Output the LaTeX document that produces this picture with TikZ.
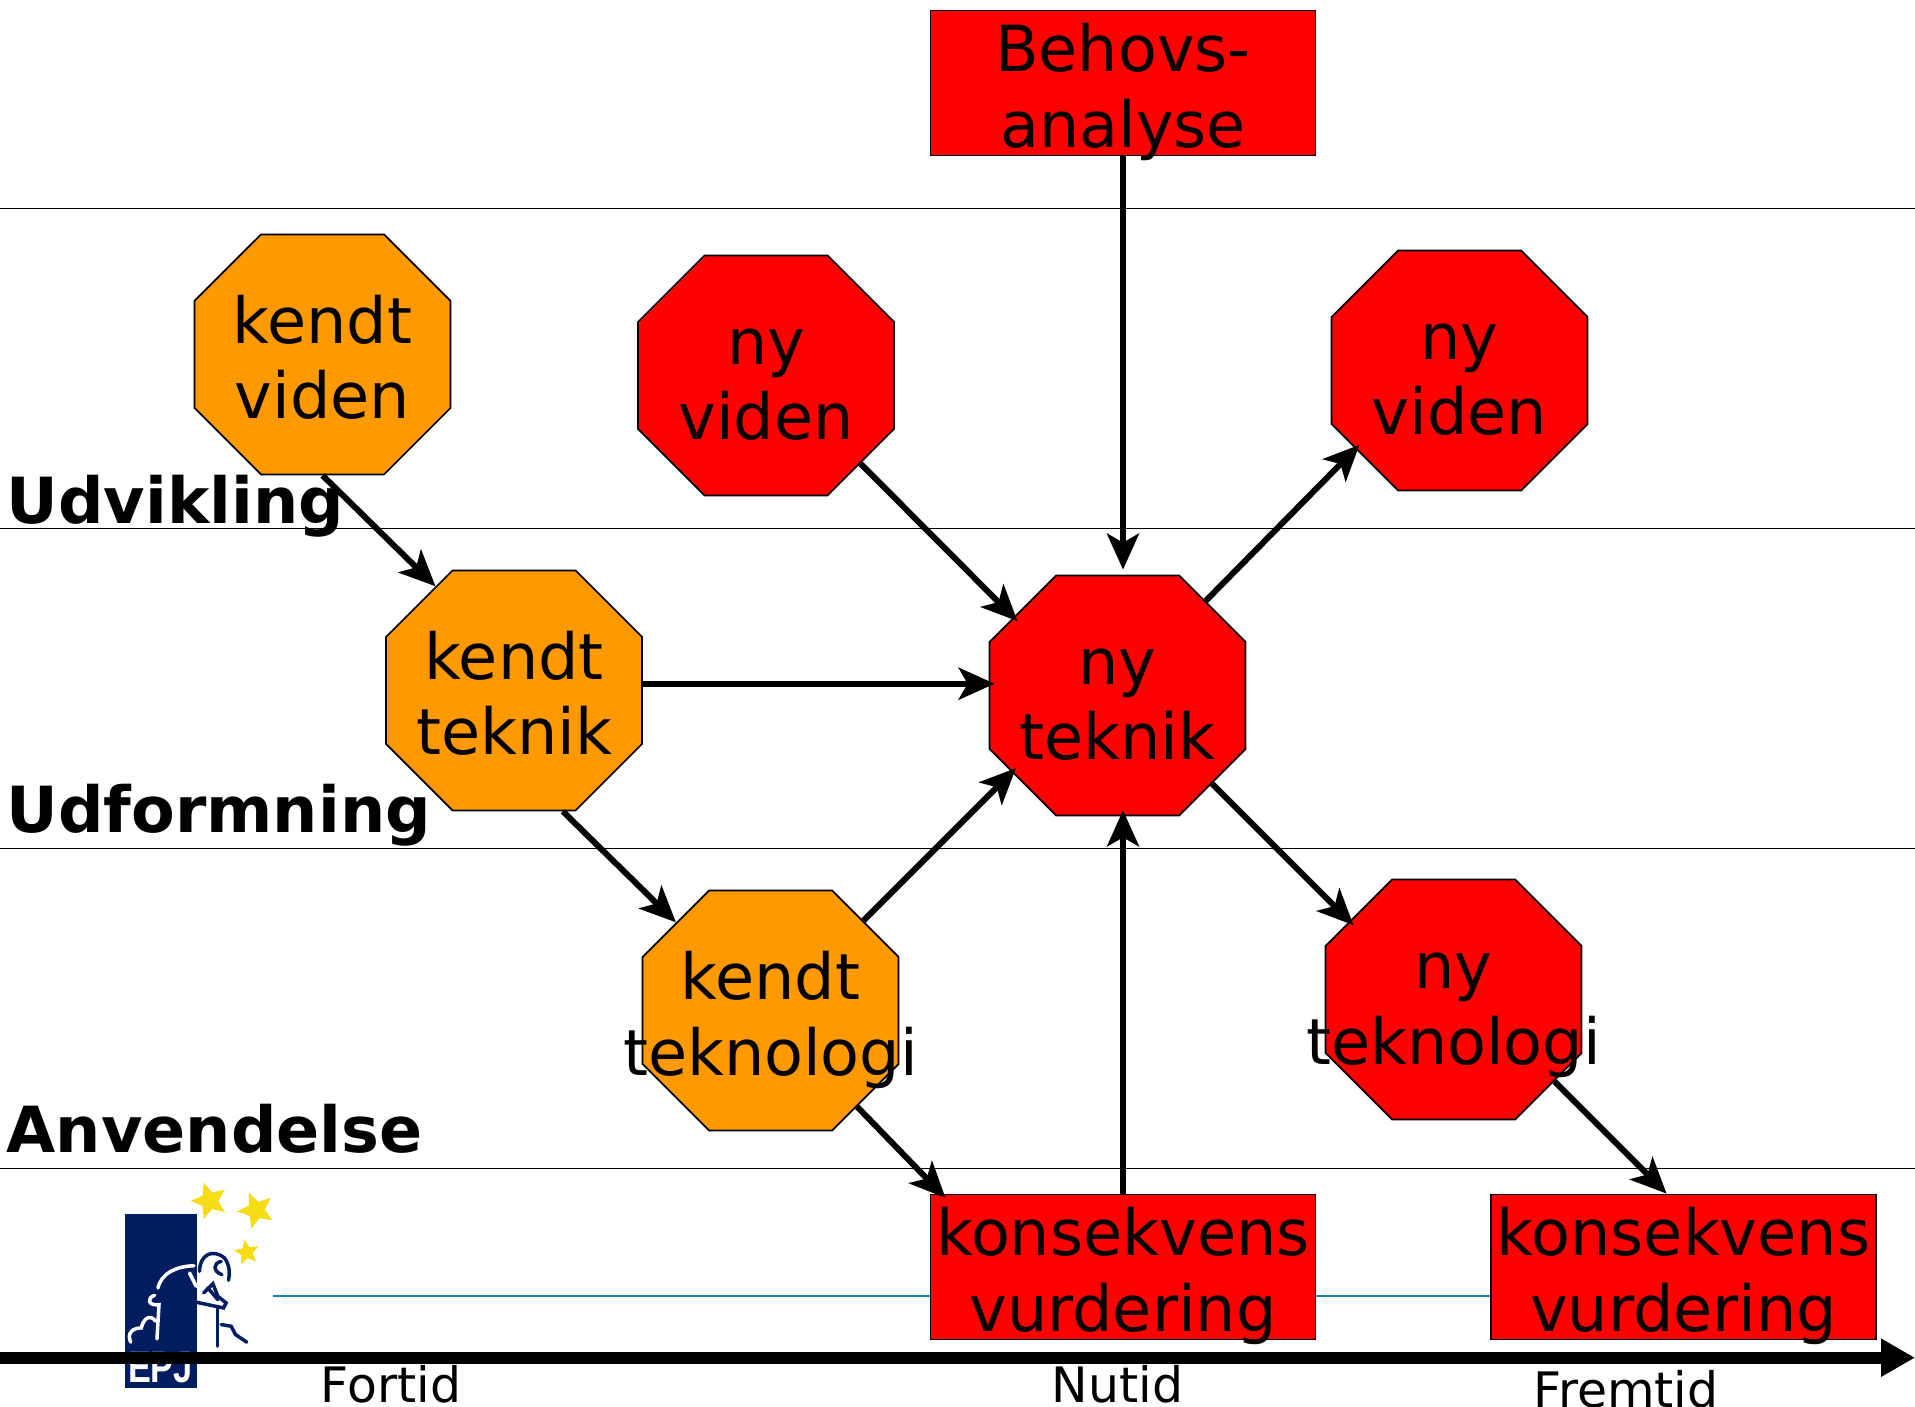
\documentclass[tikz,border=0pt]{standalone}
\usepackage{fontspec}
\setmainfont{DejaVu Sans}
\newfontfamily\epjfont{Liberation Sans}
\usetikzlibrary{arrows.meta,positioning,shapes.misc,shapes.geometric,backgrounds}
\definecolor{known}{HTML}{FF9900}
\definecolor{epjblue}{HTML}{001E5F}
\definecolor{epjstar}{HTML}{F5DC14}
\definecolor{timeline}{HTML}{1A80C0}
\newcommand{\twolines}[2]{\makebox[0pt]{#1}\\\makebox[0pt]{#2}}

\begin{document}
\begin{tikzpicture}[on grid,>={Stealth[length=.36cm,width=.32cm,inset=.09cm]}]
	\tikzstyle{block text}=[font=\fontsize{18.1pt}{21.6pt}\selectfont, align=center, inner sep=0pt, text height=1.31cm, text depth=.02cm, draw=black, line width=.5pt]
	\tikzstyle{octa}=[block text, chamfered rectangle, chamfered rectangle xsep=.82cm, chamfered rectangle ysep=.82cm, minimum width=2.56cm, minimum height=2.40cm]
	\tikzstyle{octa known}=[octa, fill=known]
	\tikzstyle{octa new}=[octa, fill=red]
	\tikzstyle{box}=[block text, rectangle, fill=red, minimum width=3.85cm, minimum height=1.45cm]
	\tikzstyle{flow}=[->, line width=.06cm]
	\tikzstyle{reach}=[flow, shorten >=-.06cm]
	\tikzstyle{phase}=[font=\fontsize{18.1pt}{21.6pt}\selectfont\bfseries, anchor=base west, inner sep=0pt]
	\tikzstyle{era}=[font=\fontsize{13.9pt}{16pt}\selectfont, anchor=base, inner sep=0pt]
	\tikzstyle{star dot}=[star, star points=5, star point ratio=2.2, fill=epjstar, inner sep=0pt]
	\tikzstyle{epj line}=[line width=.035cm, line cap=round]

	\clip (0,0) rectangle (19.15,14.06);

	% phase borders
	\foreach \y in {11.977,8.777,5.577,2.377}
		\draw [line width=.015cm] (0,\y) -- (19.15,\y);

	\node [phase] (udvikling) at (.06,8.82) {Udvikling};
	\node [phase] (udformning) at (.06,5.73) {Udformning};
	\node [phase] (anvendelse) at (.06,2.535) {Anvendelse};

	% logo, in crop pixels
	\begin{scope}[shift={(0,2.76)},x=.003333cm,y=-.003333cm]
		\fill [epjblue] (375,252) rectangle (591,777);
		\node [star dot, minimum size=.38cm, rotate=18] (star a) at (630,213) {};
		\node [star dot, minimum size=.38cm, rotate=22] (star b) at (770,241) {};
		\node [star dot, minimum size=.26cm, rotate=10] (star c) at (742,368) {};
		\draw [epj line, epjblue] (600,425) .. controls (600,375) and (640,355) .. (675,385) .. controls (690,405) and (692,430) .. (687,452);
		\draw [epj line, epjblue] (665,395) .. controls (640,400) and (640,425) .. (667,435);
		\draw [epj line, epjblue] (612,490) -- (640,462) -- (655,500) -- (680,520) -- (672,535) -- (591,518);
		\draw [epj line, epjblue] (625,475) -- (655,510);
		\draw [epj line, epjblue] (654,535) -- (654,650);
		\draw [epj line, epjblue] (665,585) -- (695,590) -- (708,615) -- (742,638);
		\draw [epj line, white] (475,475) .. controls (485,430) and (530,410) .. (583,408);
		\draw [epj line, white] (570,430) -- (590,470);
		\draw [epj line, white] (465,497) .. controls (440,505) and (445,530) .. (478,525) -- (472,628);
		\draw [epj line, white] (393,638) .. controls (380,610) and (400,595) .. (425,595) .. controls (430,570) and (450,550) .. (468,575);
	\end{scope}
	\node [font=\epjfont\fontsize{12.5pt}{14pt}\selectfont\bfseries, text=white, anchor=base, inner sep=0pt] (epj) at (1.605,.24) {\scalebox{.78}[1]{EPJ}};

	% time axis
	\coordinate (past) at (0,.483);
	\coordinate (future) at (19.15,.483);
	\draw [-{Triangle[length=.34cm,width=.36cm]}, line width=.12cm] (past) -- (future);
	\node [era] (fortid) at (3.91,.04) {Fortid};
	\node [era] (nutid) at (11.175,.04) {Nutid};
	\node [era] (fremtid) at (16.26,-.01) {Fremtid};

	% knowledge nodes
	\node [octa known] (kv) at (3.225,10.515) {\twolines{kendt}{viden}};
	\node [octa known] (kt) [below right=3.36cm and 1.915cm of kv] {\twolines{kendt}{teknik}};
	\node [octa known] (kty) [below right=3.2cm and 2.565cm of kt] {\twolines{kendt}{teknologi}};
	\node [octa new] (nv) [below right=.21cm and 4.435cm of kv] {\twolines{ny}{viden}};
	\node [octa new] (nt) [below right=.05cm and 6.035cm of kt] {\twolines{ny}{teknik}};
	\node [octa new] (nv2) [above right=3.25cm and 3.42cm of nt] {\twolines{ny}{viden}};
	\node [octa new] (nty) [below right=3.04cm and 3.36cm of nt] {\twolines{ny}{teknologi}};
	\node [box] (ba) [above right=6.125cm and .055cm of nt] {Behovs-\\analyse};
	\node [box] (kv1) [below=11.84cm of ba] {konsekvens\\vurdering};
	\node [box] (kv2) [right=5.605cm of kv1] {konsekvens\\vurdering};

	\begin{pgfonlayer}{background}
		\coordinate (logo edge) at (2.73,1.10);
		\draw [timeline, line width=.012cm] (logo edge) -- (logo edge -| kv2.west);
	\end{pgfonlayer}

	\draw [flow] (kv.south) -- (kt.127);
	\draw [flow] (kt.-68) -- (kty.137);
	\draw [reach] (kt.3.5) -- (kt.3.5 -| nt.west);
	\draw [reach] (nv.-43) -- (nt.143);
	\draw [flow, shorten >=.05cm] (ba.south) -- (ba.south |- nt.north);
	\draw [reach] (kty.44) -- (nt.216);
	\draw [reach] (kty.-48) -- (kv1.158.5);
	\draw [reach] (kv1.north) -- (kv1.north |- nt.south);
	\draw [reach] (nt.47) -- (nv2.-143);
	\draw [reach] (nt.-43) -- (nty.143);
	\draw [flow] (nty.-39.5) -- (kv2.103.7);
\end{tikzpicture}
\end{document}
